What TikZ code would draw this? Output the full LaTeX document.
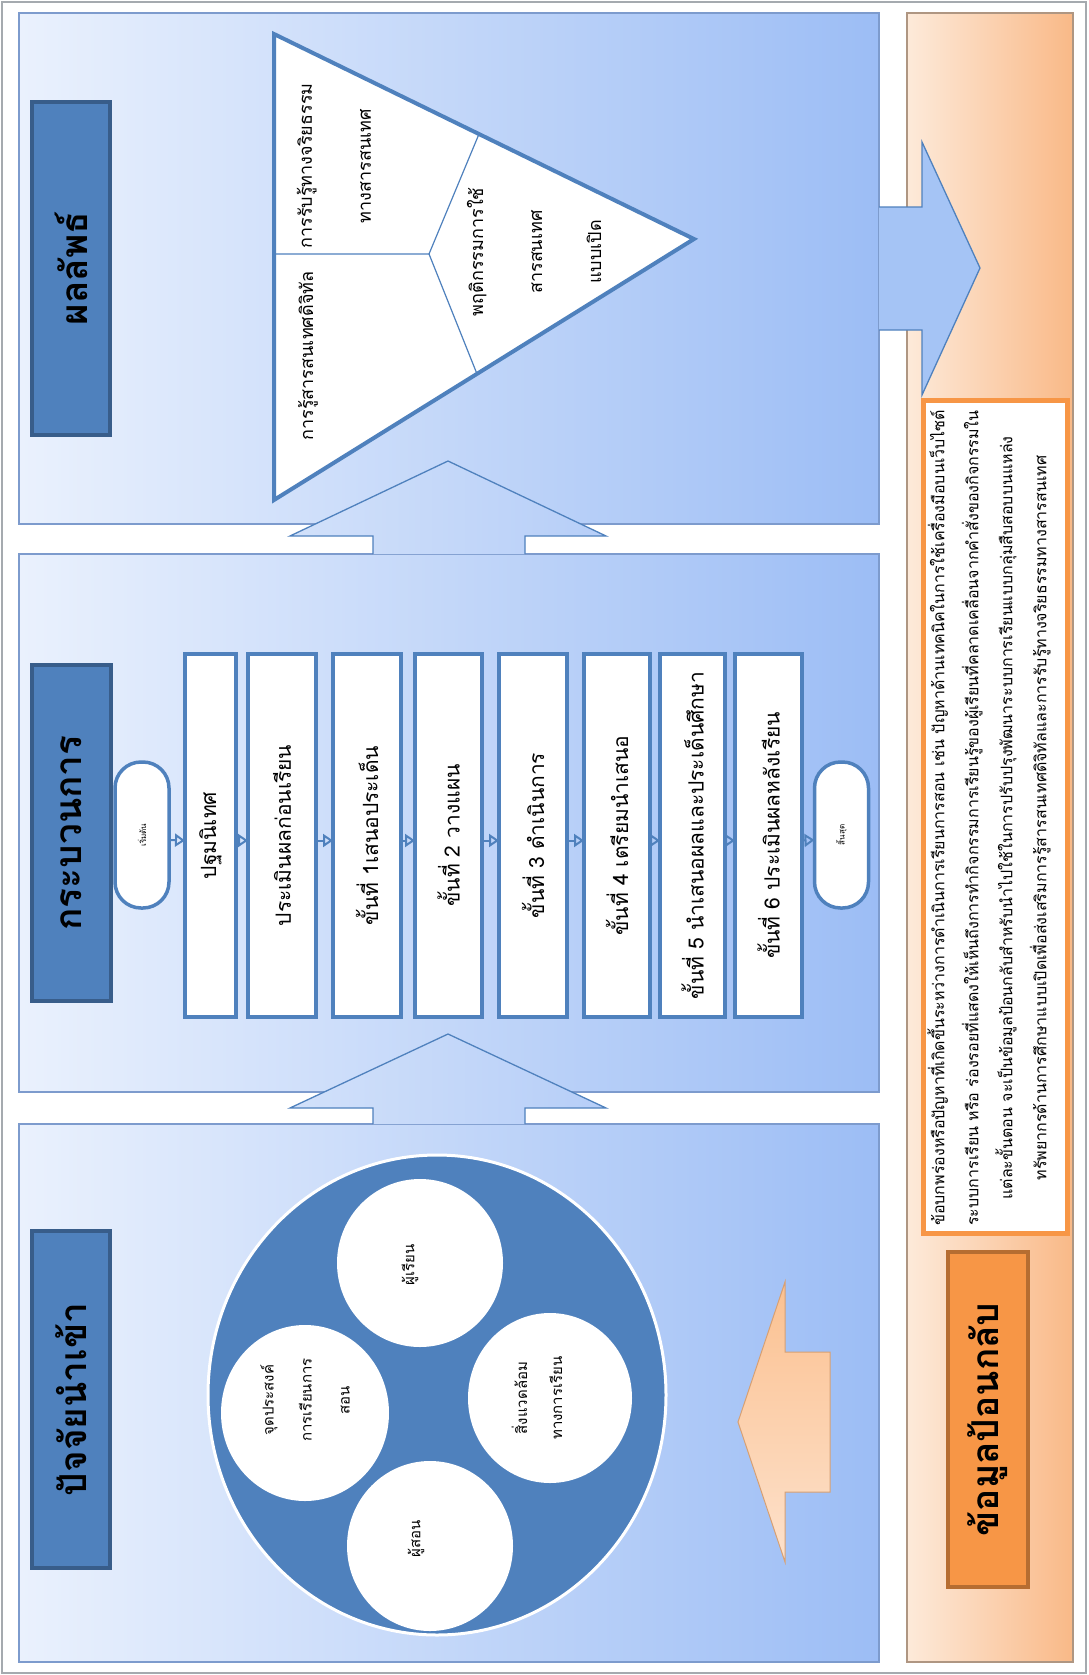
\documentclass[tikz,border=0pt]{standalone}
\usepackage{fontspec}
\usepackage{graphicx}
\newfontfamily\thaifont[Script=Thai]{Loma}
\usetikzlibrary{arrows.meta,shapes.geometric,calc}
\definecolor{hdrblue}{RGB}{79,129,189}
\definecolor{hdrblueb}{RGB}{56,93,138}
\definecolor{panL}{RGB}{234,241,253}
\definecolor{panR}{RGB}{156,189,245}
\definecolor{panB}{RGB}{125,155,205}
\definecolor{orgL}{RGB}{253,234,218}
\definecolor{orgR}{RGB}{249,185,135}
\definecolor{orgB}{RGB}{175,150,130}
\definecolor{hdrorg}{RGB}{247,150,70}
\definecolor{hdrorgb}{RGB}{182,109,49}
\definecolor{arrL}{RGB}{210,225,250}
\definecolor{arrR}{RGB}{182,206,248}
\definecolor{arrB}{RGB}{165,196,245}
\definecolor{peachT}{RGB}{251,193,145}
\definecolor{peachB}{RGB}{253,225,203}
\definecolor{peachE}{RGB}{215,160,115}
\definecolor{frameC}{RGB}{165,170,175}
\begin{document}
\begin{tikzpicture}[x=1pt,y=-1pt,
  every node/.style={inner sep=0pt, outer sep=0pt},
  panel/.style={left color=panL, right color=panR, draw=panB, line width=1.2pt},
  fbpanel/.style={left color=orgL, right color=orgR, draw=orgB, line width=1.2pt},
  hdr/.style={draw=hdrblueb, fill=hdrblue, line width=4pt, rectangle,
    font=\thaifont\fontsize{37}{40}\selectfont\bfseries, text=black},
  hdrO/.style={draw=hdrorgb, fill=hdrorg, line width=4pt, rectangle,
    font=\thaifont\fontsize{37}{40}\selectfont\bfseries, text=black},
  pbox/.style={draw=hdrblue, fill=white, line width=4.5pt, rectangle,
    minimum height=363, font=\thaifont\fontsize{21}{24}\selectfont},
  oval/.style={draw=hdrblue, fill=white, line width=3.5pt, rectangle,
    rounded corners=26pt, minimum width=54, minimum height=146,
    font=\thaifont\fontsize{8}{9}\selectfont},
  conn/.style={draw=hdrblue, line width=2pt, -{Triangle[open,length=10pt,width=13pt]}},
  upArrow/.style={left color=arrL, right color=arrR, draw=hdrblue, line width=1.3pt},
  blob/.style={ellipse, fill=white, draw=none},
  ttext/.style={rotate=90, align=center, font=\thaifont\fontsize{18}{59}\selectfont},
  ctext/.style={rotate=90, align=center, font=\thaifont\fontsize{15}{38}\selectfont},
]
\useasboundingbox (0,0) rectangle (1088,1675);
\fill[white] (0,0) rectangle (1088,1675);
\draw[frameC, line width=1.2pt] (2,2) rectangle (1086,1673);

% panels
\path[panel] (19,13) rectangle (879,524);
\path[panel] (19,554) rectangle (879,1092);
\path[panel] (19,1124) rectangle (879,1662);
\path[fbpanel] (907,13) rectangle (1073,1662);

% block arrows between panels
\path[upArrow] (373,554) -- (373,536) -- (290,536) -- (448,461) -- (606,536) -- (525,536) -- (525,554);
\path[upArrow] (373,1124) -- (373,1108) -- (290,1108) -- (448,1034) -- (606,1108) -- (525,1108) -- (525,1124);
\path[fill=arrB, draw=hdrblue, line width=1.3pt] (879,207) -- (922,207) -- (922,142) -- (980,268) -- (922,395) -- (922,330) -- (879,330);
\path[top color=peachT, bottom color=peachB, draw=peachE, line width=1pt]
  (738,1422) -- (785,1282) -- (785,1352) -- (830,1352) -- (830,1492) -- (785,1492) -- (785,1562) -- cycle;

% headers
\node[hdr, minimum width=78, minimum height=333] (hOut) at (71,268.5) {\rotatebox{90}{ผลลัพธ์}};
\node[hdr, minimum width=79, minimum height=336] (hProc) at (71.5,833) {\rotatebox{90}{กระบวนการ}};
\node[hdr, minimum width=78, minimum height=337] (hIn) at (71,1399.5) {\rotatebox{90}{ปัจจัยนำเข้า}};
\node[hdrO, minimum width=80, minimum height=335] (hFb) at (988,1419.5) {\rotatebox{90}{ข้อมูลป้อนกลับ}};

% outcome triangle
\draw[hdrblue, fill=white, line width=4pt, line join=miter] (274,34) -- (694,239) -- (274,500) -- cycle;
\coordinate (tc) at (429,254);
\draw[hdrblue, line width=1.2pt] (274,254) -- (tc) -- (479,134);
\draw[hdrblue, line width=1.2pt] (tc) -- (477,374);
\node[ttext] (t1) at (334,166) {การรับรู้ทางจริยธรรม\\ทางสารสนเทศ};
\node[ttext] (t2) at (308,356) {การรู้สารสนเทศดิจิทัล};
\node[ttext] (t3) at (534,252) {พฤติกรรมการใช้\\สารสนเทศ\\แบบเปิด};

% process
\node[oval] (s0) at (142,835) {\rotatebox{90}{เริ่มต้น}};
\node[pbox, minimum width=51] (b1) at (210.5,835.5) {\rotatebox{90}{ปฐมนิเทศ}};
\node[pbox, minimum width=68] (b2) at (282,835.5) {\rotatebox{90}{ประเมินผลก่อนเรียน}};
\node[pbox, minimum width=68] (b3) at (367,835.5) {\rotatebox{90}{ขั้นที่ 1เสนอประเด็น}};
\node[pbox, minimum width=67] (b4) at (448.5,835.5) {\rotatebox{90}{ขั้นที่ 2 วางแผน}};
\node[pbox, minimum width=68] (b5) at (533,835.5) {\rotatebox{90}{ขั้นที่ 3 ดำเนินการ}};
\node[pbox, minimum width=66] (b6) at (617,835.5) {\rotatebox{90}{ขั้นที่ 4 เตรียมนำเสนอ}};
\node[pbox, minimum width=65] (b7) at (692.5,835.5) {\rotatebox{90}{ขั้นที่ 5 นำเสนอผลและประเด็นศึกษา}};
\node[pbox, minimum width=67] (b8) at (768.5,835.5) {\rotatebox{90}{ขั้นที่ 6 ประเมินผลหลังเรียน}};
\node[oval] (s9) at (841.5,835) {\rotatebox{90}{สิ้นสุด}};
\foreach \a/\b in {s0/b1,b1/b2,b2/b3,b3/b4,b4/b5,b5/b6,b6/b7,b7/b8,b8/s9}
  \draw[conn] ([yshift=-5pt]\a.east) -- ([yshift=-5pt]\b.west);

% input circle
\node[ellipse, fill=hdrblue, draw=white, line width=3pt, minimum width=458, minimum height=480] (big) at (437,1395) {};
\node[blob, minimum width=166, minimum height=168] (cL) at (420,1263) {};
\node[blob, minimum width=168, minimum height=176] (cA) at (305,1413) {};
\node[blob, minimum width=164, minimum height=170] (cE) at (550,1398) {};
\node[blob, minimum width=166, minimum height=170] (cT) at (430,1546) {};
\node[ctext] (xL) at (410,1265) {ผู้เรียน};
\node[ctext] (xA) at (305,1400) {จุดประสงค์\\การเรียนการ\\สอน};
\node[ctext, font=\thaifont\fontsize{15}{35}\selectfont] (xE) at (537,1398) {สิ่งแวดล้อม\\ทางการเรียน};
\node[ctext] (xT) at (416,1539) {ผู้สอน};

% feedback text box
\node[draw=hdrorg, fill=white, line width=5pt, rectangle, minimum width=144, minimum height=833] (fbox) at (995,816.5) {};
\node[rotate=90, align=center, font=\thaifont\fontsize{16}{34}\selectfont] (ftext) at (989,818)
{ข้อบกพร่องหรือปัญหาที่เกิดขึ้นระหว่างการดำเนินการเรียนการสอน เช่น ปัญหาด้านเทคนิคในการใช้เครื่องมือบนเว็บไซต์\\
ระบบการเรียน หรือ ร่องรอยที่แสดงให้เห็นถึงการทำกิจกรรมการเรียนรู้ของผู้เรียนที่คลาดเคลื่อนจากคำสั่งของกิจกรรมใน\\
แต่ละขั้นตอน จะเป็นข้อมูลป้อนกลับสำหรับนำไปใช้ในการปรับปรุงพัฒนาระบบการเรียนแบบกลุ่มสืบสอบบนแหล่ง\\
ทรัพยากรด้านการศึกษาแบบเปิดเพื่อส่งเสริมการรู้สารสนเทศดิจิทัลและการรับรู้ทางจริยธรรมทางสารสนเทศ};
\end{tikzpicture}
\end{document}
